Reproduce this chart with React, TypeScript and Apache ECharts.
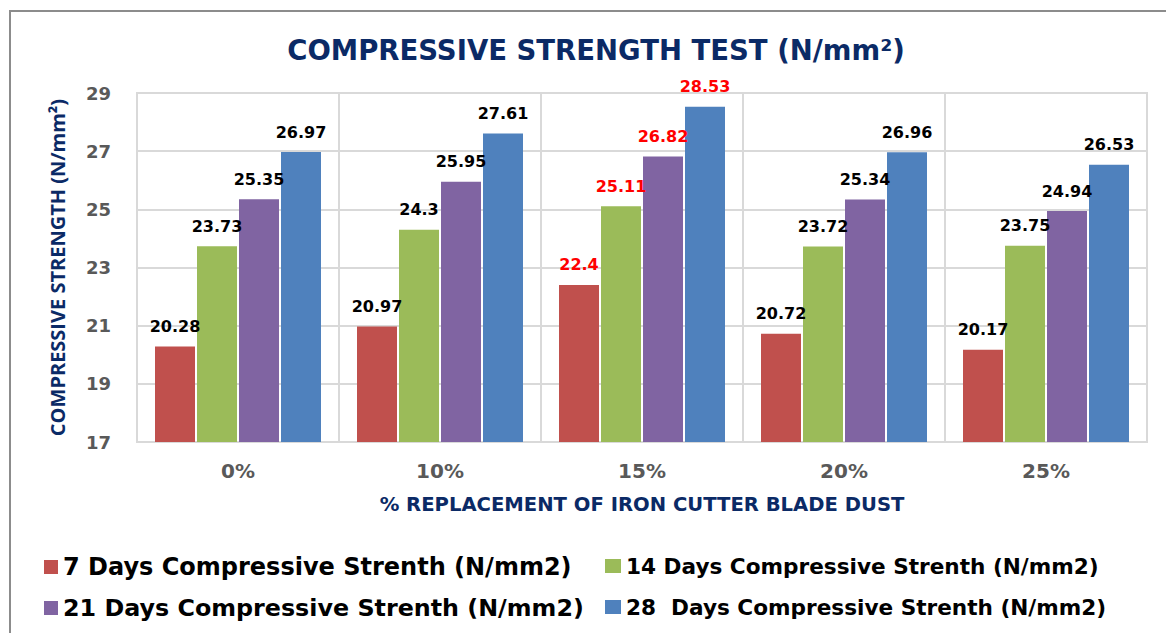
import React, { useEffect, useRef } from "react";
import * as echarts from "echarts";

const categories = ["0%", "10%", "15%", "20%", "25%"];
const seriesNames = [
  "7 Days Compressive Strenth (N/mm2)",
  "14 Days Compressive Strenth (N/mm2)",
  "21 Days Compressive Strenth (N/mm2)",
  "28  Days Compressive Strenth (N/mm2)",
];
const days7 = [20.28, 20.97, 22.4, 20.72, 20.17];
const days14 = [23.73, 24.3, 25.11, 23.72, 23.75];
const days21 = [25.35, 25.95, 26.82, 25.34, 24.94];
const days28 = [26.97, 27.61, 28.53, 26.96, 26.53];
const colors = ["#C0504D", "#9BBB59", "#8064A2", "#4F81BD"];
const highlightIndex = 2;

export default function App() {
  const ref = useRef<HTMLDivElement>(null);
  useEffect(() => {
    if (!ref.current) return;
    const chart = echarts.init(ref.current, null, { renderer: "svg" });
    const all = [days7, days14, days21, days28];
    const series = all.map((vals, si) => ({
      name: seriesNames[si],
      type: "bar",
      barWidth: 40,
      barGap: "5%",
      itemStyle: { color: colors[si] },
      label: {
        show: true,
        position: "top",
        distance: 12,
        fontFamily: "DejaVu Sans",
        fontWeight: "bold",
        fontSize: 16,
        color: "#000000",
      },
      data: vals.map((v, i) =>
        i === highlightIndex ? { value: v, label: { color: "#FF0000" } } : v
      ),
    }));
    const legendText = (size: number) => ({
      fontFamily: "DejaVu Sans",
      fontWeight: "bold",
      fontSize: size,
      color: "#000000",
    });
    const legendPos = [
      { left: 44, top: 555, w: 14, size: 24 },
      { left: 605, top: 555, w: 16, size: 21.6 },
      { left: 44, top: 596, w: 14, size: 23.8 },
      { left: 605, top: 596, w: 16, size: 21.6 },
    ];
    chart.setOption({
      animation: false,
      backgroundColor: "#ffffff",
      title: {
        text: "COMPRESSIVE STRENGTH TEST (N/mm²)",
        left: 591,
        textAlign: "center",
        top: 31,
        textStyle: {
          fontFamily: "DejaVu Sans",
          fontWeight: "bold",
          fontSize: 27.5,
          color: "#0B2A66",
        },
      },
      graphic: [
        {
          type: "rect",
          shape: { x: 10, y: 11, width: 1300, height: 800 },
          style: { fill: "none", stroke: "#8C8C8C", lineWidth: 2 },
          silent: true,
        },
      ],
      legend: seriesNames.map((n, i) => ({
        data: [n],
        left: legendPos[i].left,
        top: legendPos[i].top,
        padding: 0,
        itemWidth: legendPos[i].w,
        itemHeight: 14,
        icon: "rect",
        textStyle: legendText(legendPos[i].size),
      })),
      grid: {
        left: 137,
        top: 93,
        right: 19,
        bottom: 191,
        show: true,
        borderColor: "#D9D9D9",
        borderWidth: 2,
      },
      xAxis: {
        type: "category",
        data: categories,
        name: "% REPLACEMENT OF IRON CUTTER BLADE DUST",
        nameLocation: "middle",
        nameGap: 52,
        nameTextStyle: {
          fontFamily: "DejaVu Sans",
          fontWeight: "bold",
          fontSize: 19.6,
          color: "#0B2A66",
        },
        axisLine: { lineStyle: { color: "#D9D9D9", width: 2 } },
        axisTick: { show: false },
        splitLine: { show: true, lineStyle: { color: "#D9D9D9", width: 2 } },
        axisLabel: {
          margin: 19,
          fontFamily: "DejaVu Sans",
          fontWeight: "bold",
          fontSize: 20,
          color: "#595959",
        },
      },
      yAxis: {
        type: "value",
        min: 17,
        max: 29,
        interval: 2,
        name: "COMPRESSIVE STRENGTH (N/mm²)",
        nameLocation: "middle",
        nameGap: 70,
        nameTextStyle: {
          fontFamily: "Open Sans",
          fontWeight: "bold",
          fontSize: 20,
          color: "#0B2A66",
        },
        axisLine: { show: false },
        axisTick: { show: false },
        splitLine: { lineStyle: { color: "#D9D9D9", width: 2 } },
        axisLabel: {
          margin: 26,
          fontFamily: "DejaVu Sans",
          fontWeight: "bold",
          fontSize: 18,
          color: "#595959",
        },
      },
      series,
    });
    return () => chart.dispose();
  }, []);
  return (
    <div
      ref={ref}
      style={{ position: "fixed", left: 0, top: 0, width: 1166, height: 633 }}
    />
  );
}
